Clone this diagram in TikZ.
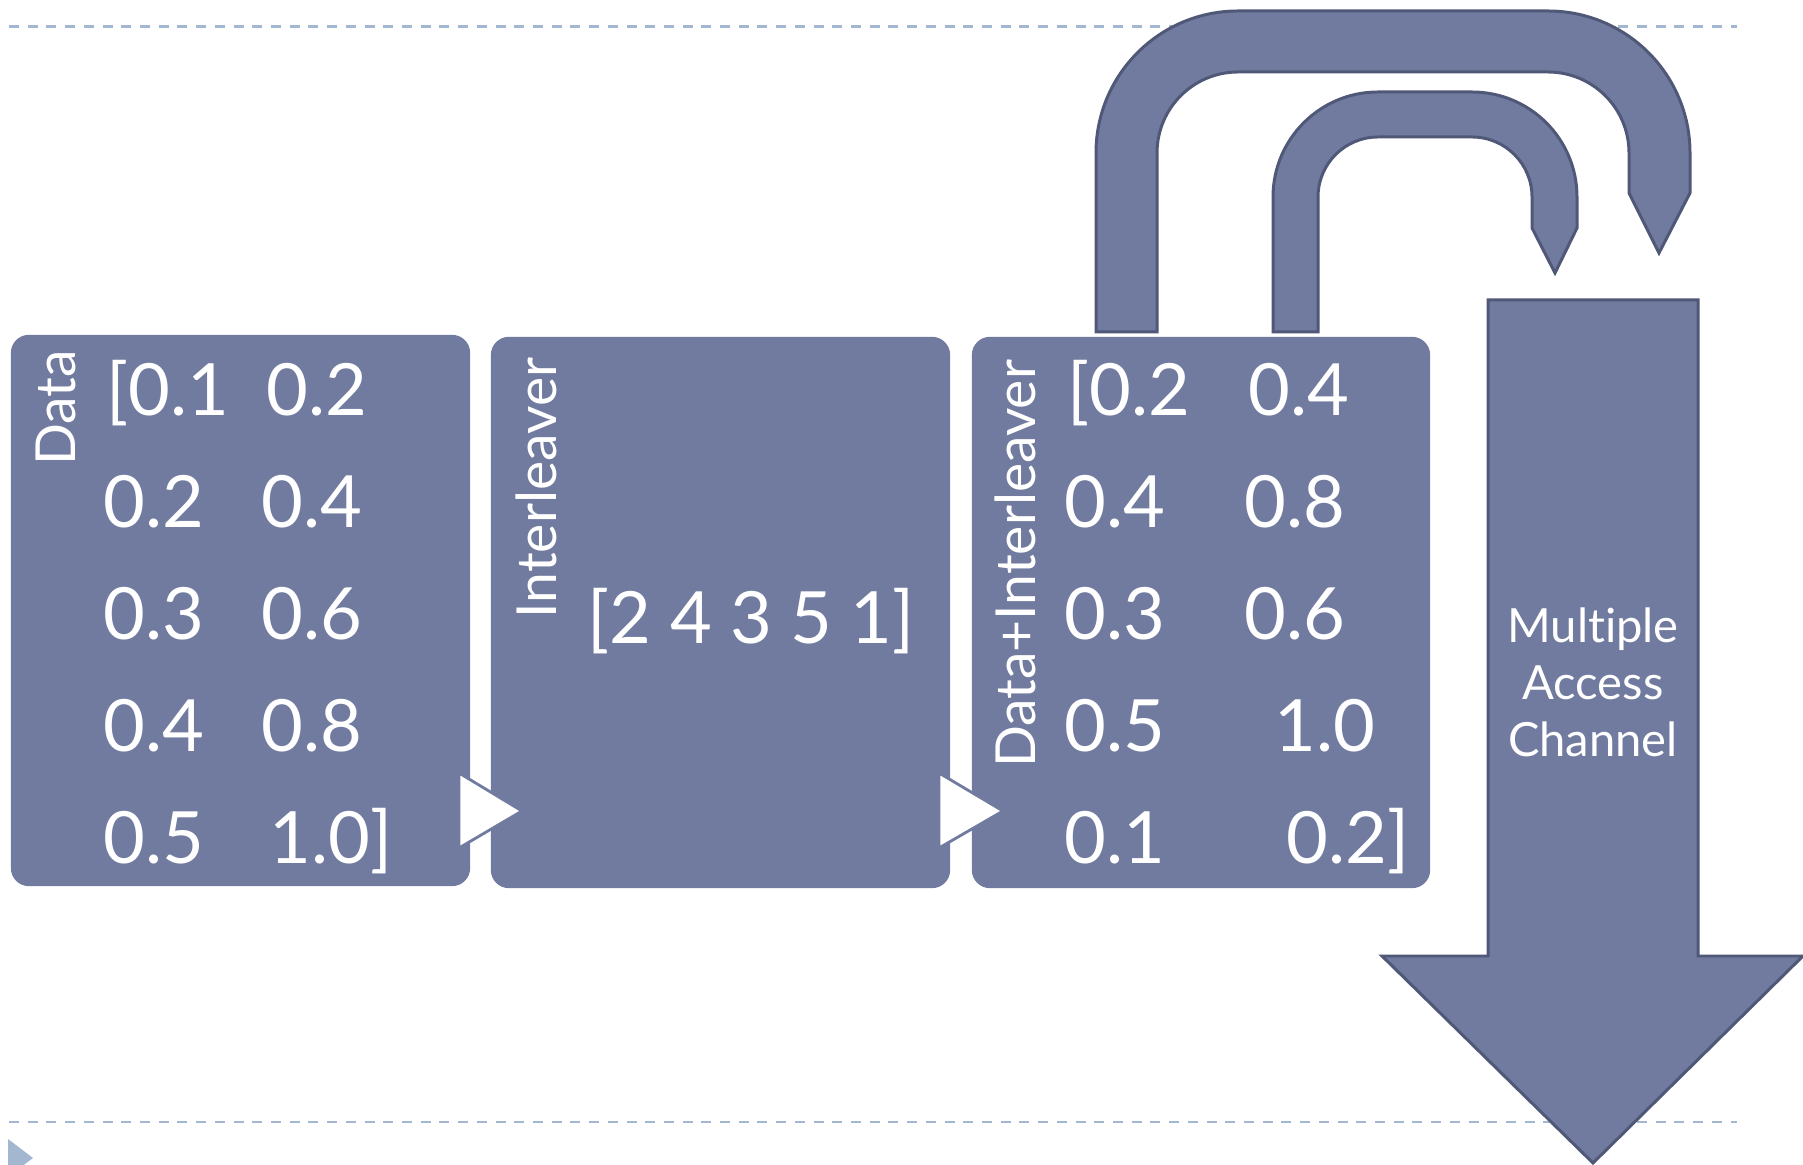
\documentclass[tikz,border=0pt]{standalone}
\usepackage{fontspec}
\setmainfont{Lato}[Ligatures=NoCommon]
\usepackage{tikz}
\usetikzlibrary{positioning}
\definecolor{BoxColor}{RGB}{113,123,160}
\definecolor{EdgeColor}{RGB}{80,88,120}
\definecolor{RuleColor}{RGB}{163,184,208}
\tikzstyle{block} = [rectangle, rounded corners=0.18cm, minimum width=4.59cm, minimum height=5.51cm, inner sep=0pt, fill=BoxColor]
\tikzstyle{num} = [anchor=base west, inner sep=0pt, text=white, font=\fontsize{20.5}{24}\selectfont]
\tikzstyle{tag} = [rotate=90, inner sep=0pt, text=white, font=\fontsize{15.7}{18}\selectfont]
\tikzstyle{hook} = [fill=BoxColor, draw=EdgeColor, line width=0.85pt, line join=miter]
\tikzstyle{pointer} = [fill=white, draw=BoxColor, line width=0.8pt]
\tikzstyle{rule} = [RuleColor, line width=0.85pt, dash pattern=on 0.1cm off 0.087cm]

\begin{document}
\begin{tikzpicture}[x=0.01cm, y=-0.01cm]
    \useasboundingbox (0,0) rectangle (1803,1165);
    % slide rules
    \draw[rule] (9,27) -- (1737,27);
    \draw[rule] (9,1122) -- (1737,1122);
    \fill[RuleColor] (8,1139) -- (33,1158) -- (8,1177) -- cycle;

    % three stages
    \node[block] (data) at (240.5,610.5) {};
    \node[block] (inter) at (720.5,612.5) {};
    \node[block, minimum width=4.58cm] (mixed) at (1201,612.5) {};

    \draw[pointer] (459,773) -- (522,811) -- (459,848) -- cycle;
    \draw[pointer] (939,773) -- (1003,811) -- (939,848) -- cycle;

    \node[tag] (datatag) at (56,408) {Data};
    \node[tag] (intertag) at (536,488) {Interleaver};
    \node[tag] (mixedtag) at (1015,564) {Data+Interleaver};

    \foreach \xa/\ta/\xb/\tb/\y [count=\i] in {106/{[0.1}/266/0.2/416, 103/0.2/261/0.4/528, 103/0.3/261/0.6/640, 103/0.4/261/0.8/752, 103/0.5/269/{1.0]}/864}
    {
        \node[num] (d\i a) at (\xa,\y) {\ta};
        \node[num] (d\i b) at (\xb,\y) {\tb};
    }
    \foreach \xa/\ta/\xb/\tb/\y [count=\i] in {1067/{[0.2}/1248/0.4/416, 1064/0.4/1244/0.8/528, 1064/0.3/1244/0.6/640, 1064/0.5/1274/1.0/752, 1064/0.1/1286/{0.2]}/864}
    {
        \node[num] (m\i a) at (\xa,\y) {\ta};
        \node[num] (m\i b) at (\xb,\y) {\tb};
    }
    \node[num] (perm) at (587,644) {[2 4 3 5 1]};

    % feedback arrows
    \draw[hook] (1096,332) -- (1096,153) arc[start angle=180, end angle=270, radius=142] -- (1548,11) arc[start angle=270, end angle=360, radius=142] -- (1690,193) -- (1659,253) -- (1629,193) -- (1629,153) arc[start angle=0, end angle=-90, radius=81] -- (1238,72) arc[start angle=-90, end angle=-180, radius=81] -- (1157,332) -- cycle;
    \draw[hook] (1273,332) -- (1273,197) arc[start angle=180, end angle=270, radius=105] -- (1472,92) arc[start angle=270, end angle=360, radius=105] -- (1577,228) -- (1555,273) -- (1532,228) -- (1532,197) arc[start angle=0, end angle=-90, radius=60] -- (1378,137) arc[start angle=-90, end angle=-180, radius=60] -- (1318,332) -- cycle;

    % channel
    \draw[hook] (1488,300) -- (1698,300) -- (1698,956) -- (1803,956) -- (1593,1163) -- (1382,956) -- (1488,956) -- cycle;
    \node[text=white, align=center, font=\fontsize{13.4}{16.2}\selectfont] (channel) at (1593,682) {Multiple\\Access\\Channel};
\end{tikzpicture}
\end{document}
